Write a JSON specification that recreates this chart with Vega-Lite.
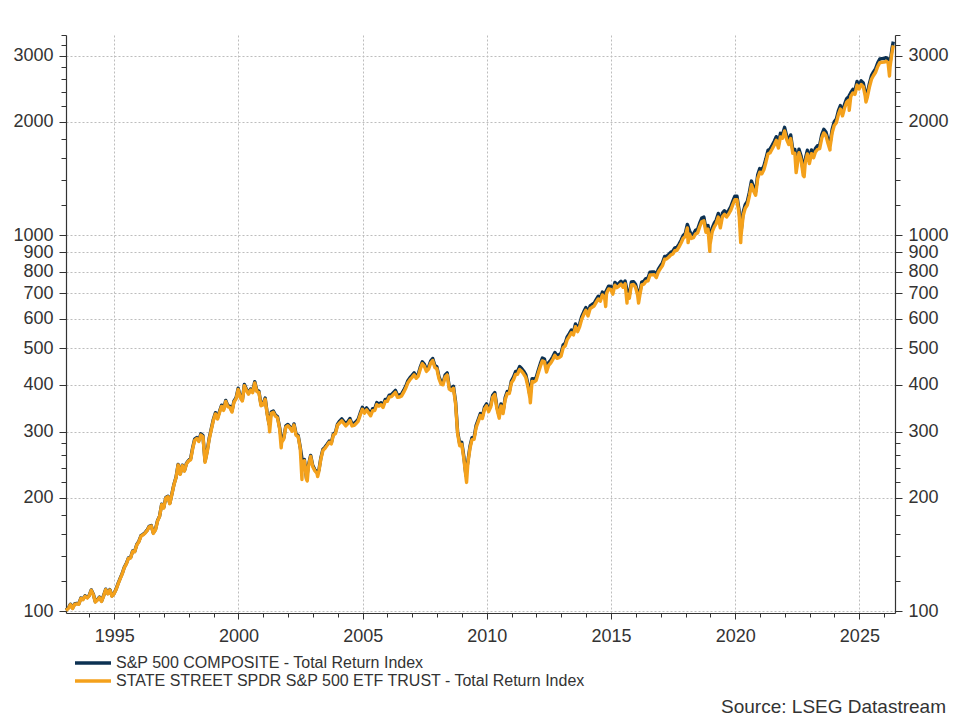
{
"$schema": "https://vega.github.io/schema/vega-lite/v6.json",
"width": 829, "height": 578,
"autosize": {"type": "none"},
"padding": {"left": 66, "top": 35, "right": 65, "bottom": 107},
"background": "white",
"config": {
  "font": "Liberation Sans",
  "view": {"stroke": null},
  "axis": {"domainColor": "#333333", "tickColor": "#333333", "labelColor": "#333333", "labelFont": "Liberation Sans", "labelFontSize": 18, "gridColor": "#bdbdbd", "gridDash": [2, 2], "gridWidth": 1, "title": null, "labelOverlap": false, "labelFlush": false}
},
"title": {"text": "Source: LSEG Datastream", "orient": "bottom", "anchor": "end", "frame": "group", "fontSize": 19, "fontWeight": "normal", "color": "#333333", "font": "Liberation Sans", "offset": 9, "dx": 51},
"data": {"values": [
{"d":"1993-01-21","a":100.6,"b":100.4},
{"d":"1993-02-28","a":102.2,"b":101.9},{"d":"1993-03-28","a":104.4,"b":104.1},{"d":"1993-04-28","a":102.0,"b":101.7},{"d":"1993-05-28","a":104.5,"b":104.2},{"d":"1993-06-28","a":104.9,"b":104.6},{"d":"1993-07-28","a":104.6,"b":104.3},{"d":"1993-08-28","a":108.4,"b":108.1},{"d":"1993-09-28","a":107.6,"b":107.3},{"d":"1993-10-28","a":109.9,"b":109.6},{"d":"1993-11-28","a":108.7,"b":108.4},{"d":"1993-12-28","a":110.1,"b":109.8},
{"d":"1994-01-28","a":113.9,"b":113.6},{"d":"1994-02-28","a":110.8,"b":110.5},{"d":"1994-03-28","a":106.0,"b":105.7},{"d":"1994-04-28","a":107.4,"b":107.1},{"d":"1994-05-28","a":109.0,"b":108.7},{"d":"1994-06-28","a":106.4,"b":106.1},{"d":"1994-07-28","a":110.0,"b":109.7},{"d":"1994-08-28","a":114.4,"b":114.1},{"d":"1994-09-28","a":111.5,"b":111.2},{"d":"1994-10-28","a":114.1,"b":113.8},{"d":"1994-11-28","a":109.9,"b":109.6},{"d":"1994-12-28","a":111.5,"b":111.2},
{"d":"1995-01-28","a":114.5,"b":114.2},{"d":"1995-02-28","a":118.8,"b":118.4},{"d":"1995-03-28","a":122.3,"b":121.9},{"d":"1995-04-28","a":126.0,"b":125.6},{"d":"1995-05-28","a":130.9,"b":130.5},{"d":"1995-06-28","a":134.0,"b":133.6},{"d":"1995-07-28","a":138.5,"b":138.1},{"d":"1995-08-28","a":138.8,"b":138.4},{"d":"1995-09-28","a":144.6,"b":144.2},{"d":"1995-10-28","a":144.2,"b":143.8},{"d":"1995-11-28","a":150.5,"b":150.0},{"d":"1995-12-28","a":153.4,"b":152.9},
{"d":"1996-01-28","a":158.7,"b":158.2},{"d":"1996-02-28","a":160.1,"b":159.6},{"d":"1996-03-28","a":161.7,"b":161.2},{"d":"1996-04-28","a":164.2,"b":163.7},{"d":"1996-05-28","a":168.2,"b":167.7},{"d":"1996-06-28","a":168.9,"b":168.4},{"d":"1996-07-28","a":161.5,"b":161.0},{"d":"1996-08-28","a":164.8,"b":164.3},{"d":"1996-09-28","a":174.1,"b":173.6},{"d":"1996-10-28","a":179.0,"b":178.5},{"d":"1996-11-28","a":192.5,"b":191.9},{"d":"1996-12-28","a":188.7,"b":188.1},
{"d":"1997-01-28","a":200.6,"b":200.0},{"d":"1997-02-28","a":202.0,"b":201.4},{"d":"1997-03-28","a":193.7,"b":193.1},{"d":"1997-04-28","a":205.3,"b":204.7},{"d":"1997-05-28","a":217.7,"b":217.0},{"d":"1997-06-28","a":227.5,"b":226.8},{"d":"1997-07-28","a":245.6,"b":244.9},{"d":"1997-08-28","a":231.8,"b":231.1},{"d":"1997-09-28","a":244.5,"b":243.8},{"d":"1997-10-28","a":236.4,"b":235.7},{"d":"1997-11-28","a":247.3,"b":246.6},{"d":"1997-12-28","a":251.6,"b":250.8},
{"d":"1998-01-28","a":254.5,"b":252.7},{"d":"1998-02-28","a":272.8,"b":270.9},{"d":"1998-03-28","a":286.7,"b":284.7},{"d":"1998-04-28","a":289.7,"b":287.7},{"d":"1998-05-28","a":284.6,"b":282.6},{"d":"1998-06-28","a":296.2,"b":294.1},{"d":"1998-07-28","a":293.1,"b":291.0},{"d":"1998-08-28","a":250.7,"b":248.9},{"d":"1998-09-28","a":266.7,"b":264.8},{"d":"1998-10-28","a":288.4,"b":286.4},{"d":"1998-11-28","a":305.9,"b":303.8},{"d":"1998-12-28","a":323.5,"b":321.2},
{"d":"1999-01-28","a":337.1,"b":334.7},{"d":"1999-02-28","a":326.6,"b":324.3},{"d":"1999-03-28","a":339.6,"b":337.2},{"d":"1999-04-28","a":352.9,"b":350.4},{"d":"1999-05-28","a":344.4,"b":342.0},{"d":"1999-06-28","a":363.6,"b":361.1},{"d":"1999-07-28","a":352.3,"b":349.8},{"d":"1999-08-28","a":350.5,"b":348.0},{"d":"1999-09-28","a":340.8,"b":338.4},{"d":"1999-10-28","a":362.5,"b":360.0},{"d":"1999-11-28","a":369.8,"b":367.2},{"d":"1999-12-28","a":391.6,"b":388.9},
{"d":"2000-01-28","a":372.0,"b":369.4},{"d":"2000-02-28","a":364.9,"b":362.3},{"d":"2000-03-28","a":400.6,"b":397.8},{"d":"2000-04-28","a":388.6,"b":385.9},{"d":"2000-05-28","a":380.5,"b":377.8},{"d":"2000-06-28","a":389.9,"b":387.2},{"d":"2000-07-28","a":383.9,"b":381.2},{"d":"2000-08-28","a":407.6,"b":404.7},{"d":"2000-09-28","a":386.2,"b":383.5},{"d":"2000-10-28","a":384.7,"b":382.0},{"d":"2000-11-28","a":354.3,"b":351.8},{"d":"2000-12-28","a":356.0,"b":353.5},
{"d":"2001-01-28","a":368.7,"b":366.1},{"d":"2001-02-28","a":335.1,"b":332.8},{"d":"2001-03-28","a":313.9,"b":311.7},{"d":"2001-04-04","b":300.0},{"d":"2001-04-28","a":338.4,"b":336.0},{"d":"2001-05-28","a":340.5,"b":338.1},{"d":"2001-06-28","a":332.3,"b":330.0},{"d":"2001-07-28","a":329.1,"b":326.8},{"d":"2001-08-28","a":308.3,"b":306.1},{"d":"2001-09-21","b":272.0},{"d":"2001-09-28","a":283.4,"b":281.4},{"d":"2001-10-28","a":288.9,"b":286.9},{"d":"2001-11-28","a":310.9,"b":308.7},{"d":"2001-12-28","a":313.6,"b":311.4},
{"d":"2002-01-28","a":309.2,"b":307.0},{"d":"2002-02-28","a":303.1,"b":301.0},{"d":"2002-03-28","a":314.7,"b":312.5},{"d":"2002-04-28","a":295.8,"b":293.7},{"d":"2002-05-28","a":293.5,"b":291.4},{"d":"2002-06-28","a":272.6,"b":270.7},{"d":"2002-07-23","b":224.0},{"d":"2002-07-28","a":251.4,"b":249.6},{"d":"2002-08-28","a":253.0,"b":251.2},{"d":"2002-09-28","a":225.5,"b":223.9},{"d":"2002-10-09","b":222.0},{"d":"2002-10-28","a":245.3,"b":243.6},{"d":"2002-11-28","a":259.6,"b":257.8},{"d":"2002-12-28","a":244.3,"b":242.6},
{"d":"2003-01-28","a":238.0,"b":236.3},{"d":"2003-02-28","a":234.3,"b":232.7},{"d":"2003-03-11","b":228.0},{"d":"2003-03-28","a":236.6,"b":234.9},{"d":"2003-04-28","a":256.1,"b":254.3},{"d":"2003-05-28","a":269.6,"b":267.7},{"d":"2003-06-28","a":273.1,"b":271.2},{"d":"2003-07-28","a":277.9,"b":276.0},{"d":"2003-08-28","a":283.3,"b":281.3},{"d":"2003-09-28","a":280.4,"b":278.4},{"d":"2003-10-28","a":296.2,"b":294.1},{"d":"2003-11-28","a":298.8,"b":296.7},{"d":"2003-12-28","a":314.4,"b":312.2},
{"d":"2004-01-28","a":320.3,"b":316.5},{"d":"2004-02-28","a":324.7,"b":320.8},{"d":"2004-03-28","a":319.8,"b":316.0},{"d":"2004-04-28","a":314.9,"b":311.1},{"d":"2004-05-28","a":319.2,"b":315.4},{"d":"2004-06-28","a":325.4,"b":321.5},{"d":"2004-07-28","a":314.7,"b":310.9},{"d":"2004-08-28","a":315.8,"b":312.0},{"d":"2004-09-28","a":319.3,"b":315.5},{"d":"2004-10-28","a":324.2,"b":320.3},{"d":"2004-11-28","a":337.2,"b":333.2},{"d":"2004-12-28","a":348.6,"b":344.4},
{"d":"2005-01-28","a":340.3,"b":336.2},{"d":"2005-02-28","a":347.3,"b":343.1},{"d":"2005-03-28","a":341.2,"b":337.1},{"d":"2005-04-28","a":334.8,"b":330.8},{"d":"2005-05-28","a":345.4,"b":341.3},{"d":"2005-06-28","a":345.9,"b":341.7},{"d":"2005-07-28","a":358.8,"b":354.5},{"d":"2005-08-28","a":355.4,"b":351.1},{"d":"2005-09-28","a":358.4,"b":354.1},{"d":"2005-10-28","a":352.5,"b":348.3},{"d":"2005-11-28","a":365.5,"b":361.1},{"d":"2005-12-28","a":365.7,"b":361.3},
{"d":"2006-01-28","a":375.6,"b":371.1},{"d":"2006-02-28","a":376.4,"b":371.9},{"d":"2006-03-28","a":381.2,"b":376.6},{"d":"2006-04-28","a":386.4,"b":381.8},{"d":"2006-05-28","a":375.1,"b":370.6},{"d":"2006-06-28","a":375.7,"b":371.2},{"d":"2006-07-28","a":378.2,"b":373.7},{"d":"2006-08-28","a":386.9,"b":382.3},{"d":"2006-09-28","a":397.0,"b":392.2},{"d":"2006-10-28","a":410.1,"b":405.2},{"d":"2006-11-28","a":417.6,"b":412.6},{"d":"2006-12-28","a":423.5,"b":418.4},
{"d":"2007-01-28","a":430.1,"b":424.9},{"d":"2007-02-28","a":421.4,"b":416.3},{"d":"2007-03-28","a":426.3,"b":421.2},{"d":"2007-04-28","a":445.4,"b":440.1},{"d":"2007-05-28","a":460.6,"b":455.1},{"d":"2007-06-28","a":453.1,"b":447.7},{"d":"2007-07-28","a":439.3,"b":434.0},{"d":"2007-08-28","a":445.6,"b":440.3},{"d":"2007-09-28","a":462.3,"b":456.8},{"d":"2007-10-28","a":469.9,"b":464.3},{"d":"2007-11-28","a":449.9,"b":444.5},{"d":"2007-12-28","a":446.7,"b":441.3},
{"d":"2008-01-28","a":420.2,"b":415.2},{"d":"2008-02-28","a":406.4,"b":401.5},{"d":"2008-03-28","a":404.8,"b":399.9},{"d":"2008-04-28","a":424.9,"b":419.8},{"d":"2008-05-28","a":430.3,"b":425.1},{"d":"2008-06-28","a":394.1,"b":389.4},{"d":"2008-07-28","a":391.0,"b":386.3},{"d":"2008-08-28","a":396.5,"b":391.7},{"d":"2008-09-28","a":361.2,"b":356.9},{"d":"2008-10-28","a":300.6,"b":297.0},{"d":"2008-11-28","a":278.7,"b":275.4},{"d":"2008-12-28","a":281.4,"b":278.0},
{"d":"2009-01-28","a":257.8,"b":254.7},{"d":"2009-02-28","a":229.9,"b":227.1},{"d":"2009-03-09","b":220.0},{"d":"2009-03-28","a":250.1,"b":247.1},{"d":"2009-04-28","a":274.1,"b":270.8},{"d":"2009-05-28","a":289.3,"b":285.8},{"d":"2009-06-28","a":289.9,"b":286.4},{"d":"2009-07-28","a":312.0,"b":308.3},{"d":"2009-08-28","a":323.2,"b":319.3},{"d":"2009-09-28","a":335.4,"b":331.4},{"d":"2009-10-28","a":329.4,"b":325.4},{"d":"2009-11-28","a":349.0,"b":344.8},{"d":"2009-12-28","a":355.9,"b":351.6},
{"d":"2010-01-28","a":343.3,"b":339.2},{"d":"2010-02-28","a":353.7,"b":349.5},{"d":"2010-03-28","a":375.1,"b":370.6},{"d":"2010-04-28","a":381.3,"b":376.7},{"d":"2010-05-28","a":350.6,"b":346.4},{"d":"2010-06-28","a":332.3,"b":328.3},{"d":"2010-07-02","b":326.0},{"d":"2010-07-28","a":355.7,"b":351.4},{"d":"2010-08-28","a":339.4,"b":335.3},{"d":"2010-09-28","a":369.7,"b":365.3},{"d":"2010-10-28","a":384.0,"b":379.4},{"d":"2010-11-28","a":383.7,"b":379.1},{"d":"2010-12-28","a":409.5,"b":404.6},
{"d":"2011-01-28","a":419.5,"b":412.4},{"d":"2011-02-28","a":433.7,"b":426.3},{"d":"2011-03-28","a":434.0,"b":426.6},{"d":"2011-04-28","a":447.1,"b":439.5},{"d":"2011-05-28","a":441.8,"b":434.3},{"d":"2011-06-28","a":434.5,"b":427.1},{"d":"2011-07-28","a":425.9,"b":418.7},{"d":"2011-08-28","a":402.5,"b":395.7},{"d":"2011-09-28","a":374.2,"b":367.8},{"d":"2011-10-03","b":358.0},{"d":"2011-10-28","a":415.3,"b":408.2},{"d":"2011-11-28","a":413.9,"b":406.9},{"d":"2011-12-28","a":418.1,"b":411.0},
{"d":"2012-01-28","a":437.2,"b":429.8},{"d":"2012-02-28","a":455.8,"b":448.1},{"d":"2012-03-28","a":470.9,"b":462.9},{"d":"2012-04-28","a":468.3,"b":460.3},{"d":"2012-05-28","a":439.8,"b":432.3},{"d":"2012-06-28","a":458.1,"b":450.3},{"d":"2012-07-28","a":464.7,"b":456.8},{"d":"2012-08-28","a":474.8,"b":466.7},{"d":"2012-09-28","a":487.2,"b":478.9},{"d":"2012-10-28","a":478.4,"b":470.3},{"d":"2012-11-28","a":480.7,"b":472.5},{"d":"2012-12-28","a":485.0,"b":476.8},
{"d":"2013-01-28","a":510.4,"b":501.7},{"d":"2013-02-28","a":516.9,"b":508.1},{"d":"2013-03-28","a":536.5,"b":527.4},{"d":"2013-04-28","a":547.2,"b":537.9},{"d":"2013-05-28","a":559.5,"b":550.0},{"d":"2013-06-28","a":552.1,"b":542.7},{"d":"2013-07-28","a":580.5,"b":570.6},{"d":"2013-08-28","a":563.3,"b":553.7},{"d":"2013-09-28","a":581.1,"b":571.2},{"d":"2013-10-28","a":608.1,"b":597.8},{"d":"2013-11-28","a":626.2,"b":615.6},{"d":"2013-12-28","a":642.1,"b":631.2},
{"d":"2014-01-28","a":620.3,"b":609.8},{"d":"2014-02-28","a":648.2,"b":637.2},{"d":"2014-03-28","a":653.8,"b":642.7},{"d":"2014-04-28","a":659.0,"b":647.8},{"d":"2014-05-28","a":674.0,"b":662.5},{"d":"2014-06-28","a":688.0,"b":676.3},{"d":"2014-07-28","a":678.8,"b":667.3},{"d":"2014-08-28","a":705.5,"b":693.5},{"d":"2014-09-28","a":695.7,"b":683.9},{"d":"2014-10-15","b":646.0},{"d":"2014-10-28","a":713.1,"b":701.0},{"d":"2014-11-28","a":731.8,"b":719.4},{"d":"2014-12-28","a":730.0,"b":717.6},
{"d":"2015-01-28","a":708.6,"b":696.6},{"d":"2015-02-28","a":748.8,"b":736.1},{"d":"2015-03-28","a":737.1,"b":724.6},{"d":"2015-04-28","a":744.7,"b":732.0},{"d":"2015-05-28","a":753.8,"b":741.0},{"d":"2015-06-28","a":739.3,"b":726.7},{"d":"2015-07-28","a":755.2,"b":742.4},{"d":"2015-08-25","b":660.0},{"d":"2015-08-28","a":709.2,"b":697.1},{"d":"2015-09-28","a":691.6,"b":679.8},{"d":"2015-10-28","a":750.3,"b":737.5},{"d":"2015-11-28","a":752.0,"b":739.2},{"d":"2015-12-28","a":740.1,"b":727.5},
{"d":"2016-01-28","a":703.9,"b":691.9},{"d":"2016-02-11","b":660.0},{"d":"2016-02-28","a":702.2,"b":690.3},{"d":"2016-03-28","a":749.9,"b":737.1},{"d":"2016-04-28","a":753.4,"b":740.6},{"d":"2016-05-28","a":766.3,"b":753.3},{"d":"2016-06-28","a":768.4,"b":755.3},{"d":"2016-07-28","a":797.2,"b":783.6},{"d":"2016-08-28","a":797.7,"b":784.1},{"d":"2016-09-28","a":798.2,"b":784.6},{"d":"2016-10-28","a":784.1,"b":770.8},{"d":"2016-11-28","a":812.3,"b":798.5},{"d":"2016-12-28","a":828.6,"b":814.5},
{"d":"2017-01-28","a":844.9,"b":830.5},{"d":"2017-02-28","a":877.7,"b":862.8},{"d":"2017-03-28","a":878.9,"b":864.0},{"d":"2017-04-28","a":888.3,"b":873.2},{"d":"2017-05-28","a":900.1,"b":884.8},{"d":"2017-06-28","a":906.0,"b":890.6},{"d":"2017-07-28","a":925.0,"b":909.3},{"d":"2017-08-28","a":927.1,"b":911.3},{"d":"2017-09-28","a":946.5,"b":930.4},{"d":"2017-10-28","a":969.1,"b":952.6},{"d":"2017-11-28","a":998.0,"b":981.0},{"d":"2017-12-28","a":1009.5,"b":992.3},
{"d":"2018-01-28","a":1067.9,"b":1044.4},{"d":"2018-02-08","b":955.0},{"d":"2018-02-28","a":1028.0,"b":1005.4},{"d":"2018-03-28","a":1002.0,"b":980.0},{"d":"2018-04-28","a":1006.4,"b":984.3},{"d":"2018-05-28","a":1029.9,"b":1007.2},{"d":"2018-06-28","a":1036.5,"b":1013.7},{"d":"2018-07-28","a":1075.6,"b":1051.9},{"d":"2018-08-28","a":1110.0,"b":1085.6},{"d":"2018-09-28","a":1116.6,"b":1092.0},{"d":"2018-10-28","a":1040.8,"b":1017.9},{"d":"2018-11-28","a":1061.1,"b":1037.8},{"d":"2018-12-24","b":905.0},{"d":"2018-12-28","a":965.3,"b":944.1},
{"d":"2019-01-28","a":1043.0,"b":1020.1},{"d":"2019-02-28","a":1075.8,"b":1052.1},{"d":"2019-03-28","a":1096.9,"b":1072.8},{"d":"2019-04-28","a":1142.0,"b":1116.9},{"d":"2019-05-28","a":1068.7,"b":1045.2},{"d":"2019-06-28","a":1144.2,"b":1119.0},{"d":"2019-07-28","a":1161.2,"b":1135.7},{"d":"2019-08-28","a":1142.1,"b":1117.0},{"d":"2019-09-28","a":1163.7,"b":1138.1},{"d":"2019-10-28","a":1189.4,"b":1163.2},{"d":"2019-11-28","a":1232.0,"b":1204.9},{"d":"2019-12-28","a":1269.3,"b":1241.4},
{"d":"2020-01-28","a":1269.2,"b":1241.3},{"d":"2020-02-28","a":1164.2,"b":1138.6},{"d":"2020-03-23","b":955.0},{"d":"2020-03-28","a":1020.1,"b":997.7},{"d":"2020-04-28","a":1151.3,"b":1126.0},{"d":"2020-05-28","a":1205.2,"b":1178.7},{"d":"2020-06-28","a":1229.3,"b":1202.3},{"d":"2020-07-28","a":1299.0,"b":1270.4},{"d":"2020-08-28","a":1392.1,"b":1361.5},{"d":"2020-09-28","a":1339.5,"b":1310.0},{"d":"2020-10-28","a":1304.5,"b":1275.8},{"d":"2020-11-28","a":1447.0,"b":1415.2},{"d":"2020-12-28","a":1502.9,"b":1469.8},
{"d":"2021-01-28","a":1488.0,"b":1455.3},{"d":"2021-02-28","a":1528.6,"b":1494.9},{"d":"2021-03-28","a":1595.4,"b":1560.3},{"d":"2021-04-28","a":1681.0,"b":1644.0},{"d":"2021-05-28","a":1692.2,"b":1655.0},{"d":"2021-06-28","a":1731.9,"b":1693.8},{"d":"2021-07-28","a":1773.4,"b":1734.4},{"d":"2021-08-28","a":1827.0,"b":1786.8},{"d":"2021-09-28","a":1742.1,"b":1703.8},{"d":"2021-10-28","a":1864.8,"b":1823.8},{"d":"2021-11-28","a":1851.4,"b":1810.7},{"d":"2021-12-28","a":1934.4,"b":1891.8},
{"d":"2022-01-28","a":1835.3,"b":1794.9},{"d":"2022-02-28","a":1780.1,"b":1740.9},{"d":"2022-03-28","a":1846.4,"b":1805.8},{"d":"2022-04-28","a":1686.3,"b":1649.2},{"d":"2022-05-28","a":1688.7,"b":1651.5},{"d":"2022-06-16","b":1466.0},{"d":"2022-06-28","a":1549.1,"b":1515.0},{"d":"2022-07-28","a":1692.6,"b":1655.4},{"d":"2022-08-28","a":1622.9,"b":1587.2},{"d":"2022-09-28","a":1473.4,"b":1441.0},{"d":"2022-10-12","b":1430.0},{"d":"2022-10-28","a":1593.2,"b":1558.2},{"d":"2022-11-28","a":1681.1,"b":1644.1},{"d":"2022-12-28","a":1584.1,"b":1549.2},
{"d":"2023-01-28","a":1684.3,"b":1647.2},{"d":"2023-02-28","a":1642.6,"b":1606.5},{"d":"2023-03-28","a":1702.5,"b":1665.0},{"d":"2023-04-28","a":1729.8,"b":1691.7},{"d":"2023-05-28","a":1736.5,"b":1698.3},{"d":"2023-06-28","a":1851.4,"b":1810.7},{"d":"2023-07-28","a":1911.7,"b":1869.6},{"d":"2023-08-28","a":1880.4,"b":1839.0},{"d":"2023-09-28","a":1791.2,"b":1751.8},{"d":"2023-10-27","b":1684.0},{"d":"2023-10-28","a":1754.2,"b":1715.6},{"d":"2023-11-28","a":1913.3,"b":1871.2},{"d":"2023-12-28","a":2000.6,"b":1956.6},
{"d":"2024-01-28","a":2034.8,"b":1990.0},{"d":"2024-02-28","a":2142.5,"b":2095.4},{"d":"2024-03-28","a":2211.5,"b":2162.8},{"d":"2024-04-28","a":2121.9,"b":2075.2},{"d":"2024-05-28","a":2226.4,"b":2177.4},{"d":"2024-06-28","a":2306.2,"b":2255.5},{"d":"2024-07-28","a":2335.0,"b":2283.6},{"d":"2024-08-05","b":2146.0},{"d":"2024-08-28","a":2391.1,"b":2338.5},{"d":"2024-09-28","a":2442.2,"b":2388.5},{"d":"2024-10-28","a":2420.8,"b":2367.5},{"d":"2024-11-28","a":2562.4,"b":2506.0},{"d":"2024-12-28","a":2501.2,"b":2446.2},
{"d":"2025-01-28","a":2571.6,"b":2515.0},{"d":"2025-02-28","a":2537.7,"b":2481.9},{"d":"2025-03-28","a":2394.2,"b":2341.5},{"d":"2025-04-08","b":2260.0},{"d":"2025-04-28","a":2378.6,"b":2326.3},{"d":"2025-05-28","a":2527.6,"b":2472.0},{"d":"2025-06-28","a":2656.0,"b":2597.6},{"d":"2025-07-28","a":2716.4,"b":2656.6},{"d":"2025-08-28","a":2771.1,"b":2710.1},{"d":"2025-09-28","a":2872.1,"b":2808.9},{"d":"2025-10-28","a":2940.0,"b":2875.0},{"d":"2025-11-28","a":2947.0,"b":2882.0},{"d":"2025-12-28","a":2949.0,"b":2884.0},
{"d":"2026-01-28","a":2965.0,"b":2900.0},{"d":"2026-02-27","a":2940.0,"b":2875.0},{"d":"2026-03-20","b":2650.0},{"d":"2026-03-28","a":2870.0,"b":2800.0},{"d":"2026-04-28","a":3150.0,"b":3080.0},{"d":"2026-05-15","a":3270.0,"b":3195.0}
]},
"encoding": {
  "x": {"field": "d", "type": "temporal",
    "scale": {"domain": [{"year": 1993, "month": 1, "date": 21}, {"year": 2026, "month": 6, "date": 9}], "nice": false},
    "axis": {
      "values": [{"year":1994,"month":1,"date":1},{"year":1995,"month":1,"date":1},{"year":1996,"month":1,"date":1},{"year":1997,"month":1,"date":1},{"year":1998,"month":1,"date":1},{"year":1999,"month":1,"date":1},{"year":2000,"month":1,"date":1},{"year":2001,"month":1,"date":1},{"year":2002,"month":1,"date":1},{"year":2003,"month":1,"date":1},{"year":2004,"month":1,"date":1},{"year":2005,"month":1,"date":1},{"year":2006,"month":1,"date":1},{"year":2007,"month":1,"date":1},{"year":2008,"month":1,"date":1},{"year":2009,"month":1,"date":1},{"year":2010,"month":1,"date":1},{"year":2011,"month":1,"date":1},{"year":2012,"month":1,"date":1},{"year":2013,"month":1,"date":1},{"year":2014,"month":1,"date":1},{"year":2015,"month":1,"date":1},{"year":2016,"month":1,"date":1},{"year":2017,"month":1,"date":1},{"year":2018,"month":1,"date":1},{"year":2019,"month":1,"date":1},{"year":2020,"month":1,"date":1},{"year":2021,"month":1,"date":1},{"year":2022,"month":1,"date":1},{"year":2023,"month":1,"date":1},{"year":2024,"month":1,"date":1},{"year":2025,"month":1,"date":1},{"year":2026,"month":1,"date":1}],
      "labelExpr": "year(datum.value) % 5 == 0 ? timeFormat(datum.value, '%Y') : ''",
      "tickSize": {"condition": {"test": "year(datum.value) % 5 == 0", "value": 6}, "value": 4},
      "gridOpacity": {"condition": {"test": "year(datum.value) % 5 == 0", "value": 1}, "value": 0},
      "grid": true, "labelPadding": 8, "domainWidth": 1.2
    }
  }
},
"layer": [
  {
    "transform": [{"filter": "isValid(datum.a)"}],
    "mark": {"type": "line", "strokeWidth": 3.4, "strokeJoin": "round"},
    "encoding": {
      "y": {"field": "a", "type": "quantitative",
        "scale": {"type": "log", "domain": [98.9, 3405], "nice": false},
        "axis": {"orient": "left",
          "values": [100,120,140,160,180,200,220,240,260,280,300,400,500,600,700,800,900,1000,1200,1400,1600,1800,2000,2200,2400,2600,2800,3000,3200,3400],
          "labelExpr": "indexof([100,200,300,400,500,600,700,800,900,1000,2000,3000], datum.value) >= 0 ? '' + datum.value : ''",
          "tickSize": {"condition": {"test": "indexof([100,200,300,400,500,600,700,800,900,1000,2000,3000], datum.value) >= 0", "value": 7}, "value": 5},
          "gridOpacity": {"condition": {"test": "indexof([100,200,300,400,500,600,700,800,900,1000,2000,3000], datum.value) >= 0", "value": 1}, "value": 0},
          "grid": true, "labelPadding": 6, "domainWidth": 1.2}
      },
      "color": {"datum": "S&P 500 COMPOSITE - Total Return Index",
        "scale": {"domain": ["S&P 500 COMPOSITE - Total Return Index", "STATE STREET SPDR S&P 500 ETF TRUST - Total Return Index"], "range": ["#0c3152", "#f4a11c"]},
        "legend": {"orient": "none", "legendX": 19, "legendY": 620, "title": null, "direction": "vertical", "symbolType": "M-3.6,0H3.6", "symbolSize": 100, "symbolStrokeWidth": 3.5, "symbolFillColor": "transparent", "labelFontSize": 16, "labelFont": "Liberation Sans", "labelColor": "#333333", "labelLimit": 0, "labelOffset": 15, "rowPadding": 2, "padding": 0}
      }
    }
  },
  {
    "transform": [{"filter": "isValid(datum.b)"}],
    "mark": {"type": "line", "strokeWidth": 3.4, "strokeJoin": "round"},
    "encoding": {
      "y": {"field": "b", "type": "quantitative",
        "axis": {"orient": "right",
          "values": [100,120,140,160,180,200,220,240,260,280,300,400,500,600,700,800,900,1000,1200,1400,1600,1800,2000,2200,2400,2600,2800,3000,3200,3400],
          "labelExpr": "indexof([100,200,300,400,500,600,700,800,900,1000,2000,3000], datum.value) >= 0 ? '' + datum.value : ''",
          "tickSize": {"condition": {"test": "indexof([100,200,300,400,500,600,700,800,900,1000,2000,3000], datum.value) >= 0", "value": 7}, "value": 5},
          "grid": false, "labelPadding": 6, "domainWidth": 1.2}
      },
      "color": {"datum": "STATE STREET SPDR S&P 500 ETF TRUST - Total Return Index"}
    }
  }
],
"resolve": {"axis": {"y": "independent"}}
}
